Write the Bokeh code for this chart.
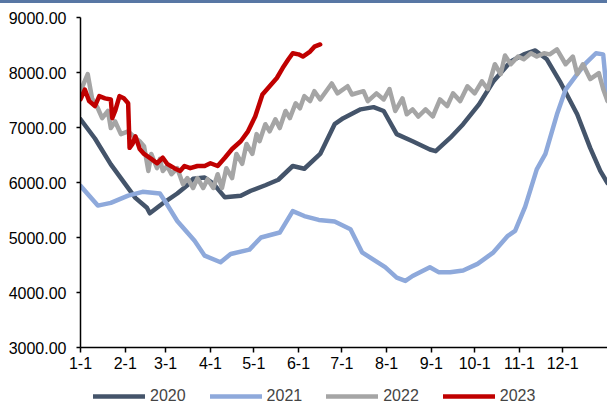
from bokeh.plotting import figure
from bokeh.layouts import column
from bokeh.models import Range1d, FixedTicker, NumeralTickFormatter, Legend, LegendItem, Div
from bokeh.embed import file_html
from bokeh.resources import INLINE

# x axis: day of year, month-start ticks
month_ticks = [0, 31, 59, 90, 120, 151, 181, 212, 243, 273, 304, 334]
month_labels = ["1-1", "2-1", "3-1", "4-1", "5-1", "6-1", "7-1", "8-1", "9-1", "10-1", "11-1", "12-1"]
y_ticks = [3000, 4000, 5000, 6000, 7000, 8000, 9000]

series_names = ["2020", "2021", "2022", "2023"]

days_2020 = [0, 10, 21, 31, 38, 46, 48, 58, 67, 74, 78, 86, 92, 100, 111, 118, 128, 137, 147, 155, 166,
             176, 182, 194, 203, 210, 219, 230, 242, 246, 256, 265, 276, 286, 298, 307, 315, 323, 332,
             344, 353, 360, 365]
vals_2020 = [7150, 6800, 6330, 5970, 5720, 5540, 5440, 5640, 5800, 5950, 6070, 6090, 5980, 5730, 5760,
             5850, 5950, 6050, 6300, 6250, 6520, 7060, 7170, 7330, 7370, 7300, 6880, 6750, 6600, 6570,
             6810, 7060, 7420, 7840, 8200, 8330, 8400, 8240, 7840, 7240, 6630, 6210, 5990]

days_2021 = [0, 12, 21, 33, 43, 55, 59, 67, 79, 86, 97, 104, 117, 125, 138, 147, 155, 165, 176, 187, 195,
             211, 219, 225, 230, 242, 248, 256, 265, 275, 286, 296, 301, 308, 316, 322, 330, 336, 344,
             350, 357, 362, 365]
vals_2021 = [5940, 5580, 5630, 5760, 5830, 5800, 5640, 5300, 4940, 4670, 4550, 4700, 4780, 5000, 5090,
             5480, 5390, 5320, 5290, 5150, 4730, 4460, 4270, 4210, 4300, 4460, 4370, 4370, 4400, 4520,
             4730, 5030, 5120, 5560, 6240, 6520, 7240, 7690, 7970, 8170, 8350, 8330, 7500]

days_2022 = [0, 5, 8, 12, 15, 19, 21, 24, 28, 33, 38, 41, 44, 47, 49, 53, 55, 57, 60, 63,
             67, 71, 74, 78, 81, 85, 88, 92, 95, 98, 101, 105, 108, 112, 115, 119, 122, 124, 128, 131,
             135, 138, 142, 145, 149, 152, 155, 159, 162, 166, 174, 178, 185, 188, 196, 199, 205, 210,
             214, 218, 223, 226, 230, 234, 239, 244, 249, 254, 258, 263, 268, 273, 278, 282, 287, 291,
             294, 298, 303, 307, 312, 316, 321, 325, 330, 336, 341, 344, 348, 353, 359, 362, 365]
vals_2022 = [7660, 7970, 7530, 7350, 7170, 7300, 6990, 7110, 6880, 6930, 6810, 6750, 6660, 6210, 6520,
             6260, 6430, 6210, 6300, 6150, 6260, 5970, 6080, 5900, 6080, 5900, 6060, 5900, 6150, 5900,
             6260, 6080, 6520, 6340, 6700, 6520, 6880, 6750, 7060, 6930, 7150, 6990, 7300, 7170, 7440,
             7350, 7570, 7480, 7660, 7510, 7800, 7620, 7750, 7600, 7660, 7480, 7620, 7510, 7700, 7300,
             7530, 7240, 7330, 7200, 7330, 7200, 7510, 7390, 7620, 7480, 7750, 7620, 7840, 7700, 8150,
             7970, 8310, 8150, 8290, 8240, 8350, 8290, 8350, 8330, 8420, 8150, 8290, 7970, 8150, 7880,
             7990, 7700, 7480]

days_2023 = [0, 3, 6, 10, 13, 17, 21, 22, 24, 27, 30, 33, 34, 36, 38, 41, 44, 49, 53, 57, 60, 65, 69,
             72, 76, 81, 86, 90, 95, 100, 105, 111, 116, 121, 126, 131, 136, 140, 144, 147, 151, 154,
             159, 162, 166]
vals_2023 = [7510, 7690, 7480, 7390, 7570, 7530, 7510, 7170, 7300, 7570, 7530, 7440, 6630, 6700, 6840,
             6610, 6520, 6430, 6350, 6450, 6340, 6260, 6210, 6300, 6260, 6300, 6300, 6350, 6300, 6450,
             6610, 6750, 6930, 7200, 7600, 7750, 7900, 8080, 8240, 8350, 8330, 8290, 8380, 8470, 8510]

colors = ["#44546A", "#8EA9DB", "#A5A5A5", "#C00000"]
FONT = "Liberation Sans"
LW = 4.5

all_days = [days_2020, days_2021, days_2022, days_2023]
all_vals = [vals_2020, vals_2021, vals_2022, vals_2023]

top_bar = Div(text="", width=607, height=3, margin=(0, 0, 0, 0),
              styles={"background-color": "#5877A4", "overflow": "hidden"})

p = figure(width=607, height=374, output_backend="svg", toolbar_location=None,
           x_range=Range1d(0, 365), y_range=Range1d(3000, 9000),
           min_border_left=80, min_border_right=0, min_border_top=14, min_border_bottom=30,
           margin=(0, 0, 0, 0))
p.outline_line_color = None
p.grid.visible = False
p.background_fill_color = "white"
p.border_fill_color = "white"

for d, v, c in zip(all_days, all_vals, colors):
    p.line(d, v, line_color=c, line_width=LW, line_join="round", line_cap="round")

for ax in (p.xaxis[0], p.yaxis[0]):
    ax.axis_line_color = "black"
    ax.axis_line_width = 1.5
    ax.major_tick_line_color = "black"
    ax.major_tick_line_width = 1.5
    ax.major_tick_in = 0
    ax.minor_tick_line_color = None
    ax.major_label_text_font = FONT
    ax.major_label_text_font_size = "16px"
    ax.major_label_text_color = "black"

p.xaxis[0].ticker = FixedTicker(ticks=month_ticks)
p.xaxis[0].major_label_overrides = {t: l for t, l in zip(month_ticks, month_labels)}
p.xaxis[0].major_tick_out = 5
p.xaxis[0].major_label_standoff = 4
p.yaxis[0].ticker = FixedTicker(ticks=y_ticks)
p.yaxis[0].formatter = NumeralTickFormatter(format="0.00")
p.yaxis[0].major_tick_out = 4
p.yaxis[0].major_label_standoff = 10

# legend strip (separate small figure so the legend is not clipped);
# its series lie outside its ranges, so only the legend samples show
lg = figure(width=607, height=26, output_backend="svg", toolbar_location=None,
            x_range=Range1d(0, 1), y_range=Range1d(0, 1), x_axis_type=None, y_axis_type=None,
            min_border_left=0, min_border_right=0, min_border_top=0, min_border_bottom=0,
            margin=(0, 0, 0, 0))
lg.outline_line_color = None
lg.background_fill_color = "white"
lg.border_fill_color = "white"
legend_renderers = [lg.line(d, v, line_color=c, line_width=LW, line_cap="round")
                    for d, v, c in zip(all_days, all_vals, colors)]

legend = Legend(items=[LegendItem(label=n, renderers=[r]) for n, r in zip(series_names, legend_renderers)],
                orientation="horizontal", location=(13, -2), glyph_width=52, glyph_height=18,
                label_standoff=5, spacing=24, padding=0, margin=0, border_line_color=None,
                background_fill_alpha=0, label_text_font=FONT, label_text_font_size="16px",
                label_height=18)
lg.add_layout(legend, "center")

layout = column(top_bar, p, lg, spacing=0, margin=(0, 0, 0, 0))

open("out.html", "w").write(file_html(layout, INLINE))
